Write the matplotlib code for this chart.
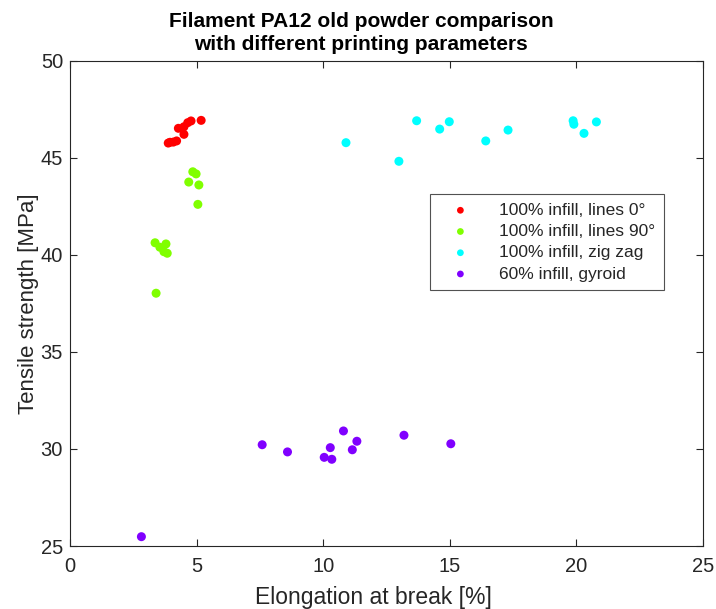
import matplotlib.pyplot as plt

plt.rcParams['font.family'] = ['Liberation Sans', 'DejaVu Sans']

# data
lines0_x = [5.18, 4.78, 4.65, 4.50, 4.28, 4.50, 4.21, 4.08, 3.95, 3.88]
lines0_y = [46.94, 46.91, 46.82, 46.61, 46.53, 46.22, 45.88, 45.82, 45.81, 45.77]

lines90_x = [4.85, 4.98, 4.69, 5.09, 5.05, 3.36, 3.79, 3.55, 3.71, 3.84, 3.40]
lines90_y = [44.29, 44.18, 43.76, 43.61, 42.61, 40.63, 40.57, 40.40, 40.17, 40.09, 38.03]

zigzag_x = [10.90, 12.99, 13.69, 14.60, 14.98, 16.42, 17.30, 19.87, 19.90, 20.30, 20.79]
zigzag_y = [45.79, 44.83, 46.92, 46.49, 46.87, 45.88, 46.44, 46.92, 46.74, 46.27, 46.86]

gyroid_x = [2.82, 7.59, 8.59, 10.04, 10.34, 10.28, 10.80, 11.15, 11.33, 13.19, 15.04]
gyroid_y = [25.48, 30.22, 29.85, 29.57, 29.47, 30.07, 30.93, 29.96, 30.40, 30.71, 30.27]

labels = ['100% infill, lines 0°', '100% infill, lines 90°',
          '100% infill, zig zag', '60% infill, gyroid']
colors = ['#ff0000', '#80ff00', '#00ffff', '#8000ff']

fig = plt.figure(figsize=(7.16, 6.09), dpi=100)
ax = fig.add_axes([70 / 716, 63 / 609, 633 / 716, 485 / 609])

series = [(lines0_x, lines0_y), (lines90_x, lines90_y),
          (zigzag_x, zigzag_y), (gyroid_x, gyroid_y)]
for (xs, ys), c, lab in zip(series, colors, labels):
    ax.scatter(xs, ys, s=42, color=c, edgecolors='none', label=lab, zorder=3)

ax.set_xlim(0, 25)
ax.set_ylim(25, 50)
ax.set_xticks([0, 5, 10, 15, 20, 25])
ax.set_yticks([25, 30, 35, 40, 45, 50])

axis_col = '#262626'
for sp in ax.spines.values():
    sp.set_color(axis_col)
    sp.set_linewidth(0.8)
ax.tick_params(direction='in', top=True, right=True, length=5,
               labelsize=14.5, colors=axis_col, pad=8)
ax.tick_params(axis='y', pad=5)

ax.set_xlabel('Elongation at break [%]', fontsize=16.5, color=axis_col)
ax.xaxis.set_label_coords(0.48, -0.083)
ax.set_ylabel('Tensile strength [MPa]', fontsize=16, color=axis_col)
ax.yaxis.set_label_coords(-0.049, 0.5)
ax.set_title('Filament PA12 old powder comparison\nwith different printing parameters',
             fontsize=15, fontweight='bold', color='black', pad=8, linespacing=1.25,
             x=0.46)

leg = ax.legend(loc='upper left', bbox_to_anchor=((430 - 70) / 633, 1 - (194 - 61) / 485),
                bbox_transform=ax.transAxes, fontsize=12.5, markerscale=0.75,
                frameon=True, fancybox=False, edgecolor=axis_col, handletextpad=1.0,
                borderpad=0.5, labelspacing=0.35, handlelength=2.5, borderaxespad=0)
leg.get_frame().set_linewidth(0.8)
for t in leg.get_texts():
    t.set_color(axis_col)

fig.savefig('out.png', dpi=100)
